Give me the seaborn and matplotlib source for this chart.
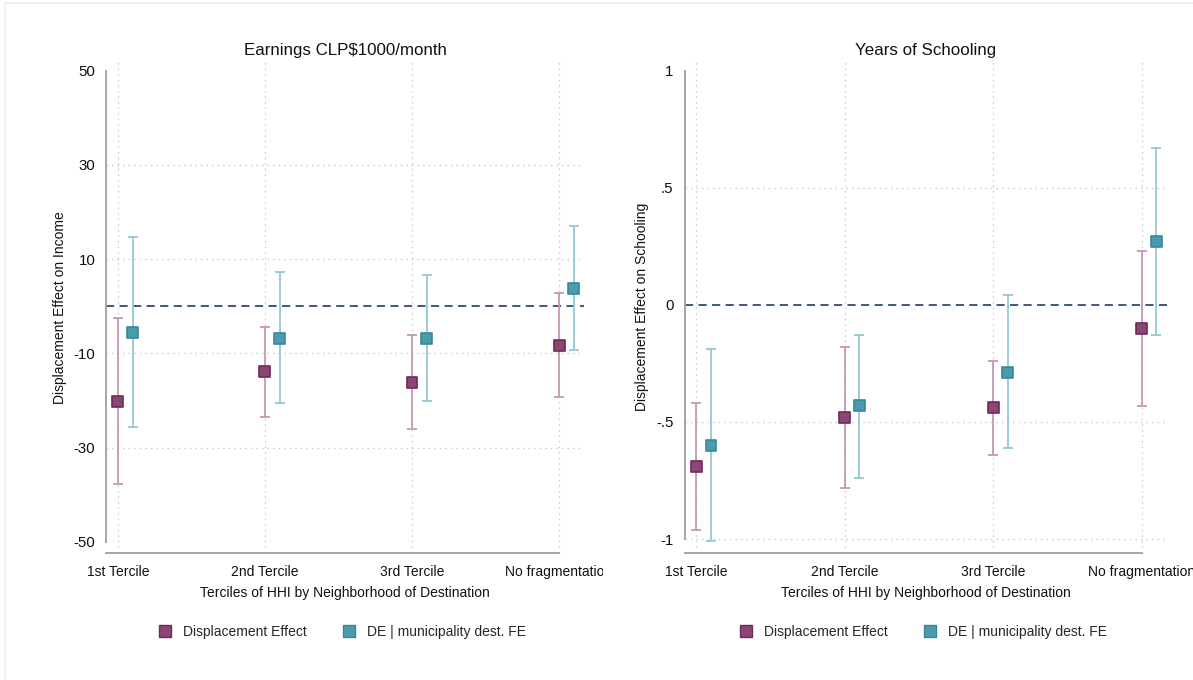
import matplotlib
matplotlib.use("Agg")
import matplotlib.pyplot as plt
from matplotlib.lines import Line2D
from matplotlib.transforms import Bbox, TransformedBbox
import numpy as np
import pandas as pd
import seaborn as sns

# Categories on the x axis
categories = ["1st Tercile", "2nd Tercile", "3rd Tercile", "No fragmentation"]
series_names = ["Displacement Effect", "DE | municipality dest. FE"]

# Earnings (CLP$1000/month): point estimates and 95% CI bounds
inc_de = [-20.2, -13.9, -16.1, -8.3]
inc_de_lo = [-37.8, -23.5, -26.0, -19.3]
inc_de_hi = [-2.5, -4.4, -6.1, 2.9]
inc_fe = [-5.6, -6.8, -6.8, 3.8]
inc_fe_lo = [-25.7, -20.6, -20.2, -9.3]
inc_fe_hi = [14.7, 7.2, 6.6, 17.1]

# Years of schooling: point estimates and 95% CI bounds
sch_de = [-0.69, -0.48, -0.44, -0.10]
sch_de_lo = [-0.96, -0.78, -0.64, -0.43]
sch_de_hi = [-0.42, -0.18, -0.24, 0.23]
sch_fe = [-0.60, -0.43, -0.29, 0.27]
sch_fe_lo = [-1.01, -0.74, -0.61, -0.13]
sch_fe_hi = [-0.19, -0.13, 0.04, 0.67]

# Axis ticks
inc_ticks = [50, 30, 10, -10, -30, -50]
inc_ticklabels = ["50", "30", "10", "-10", "-30", "-50"]
sch_ticks = [1, 0.5, 0, -0.5, -1]
sch_ticklabels = ["1", ".5", "0", "-.5", "-1"]

sns.set_theme(style="white")
plt.rcParams["font.family"] = ["Liberation Sans", "DejaVu Sans"]

MAROON_FACE, MAROON_EDGE, MAROON_CI = "#8a4773", "#72285a", "#c698b4"
TEAL_FACE, TEAL_EDGE, TEAL_CI = "#4c9bac", "#37879a", "#95c7d3"
SPINE = "#a6a6a6"
GRID = "#c8c8c8"
ZERO = "#2f4a78"

fig = plt.figure(figsize=(11.93, 6.80), dpi=100)
fig.patch.set_facecolor("white")

# faint frame along the top and left edges of the figure
fig.add_artist(Line2D([5.5 / 1193, 5.5 / 1193], [0, 1 - 2 / 680],
                      transform=fig.transFigure, color="#efefef", lw=1.2))
fig.add_artist(Line2D([5.5 / 1193, 1], [1 - 2.5 / 680, 1 - 2.5 / 680],
                      transform=fig.transFigure, color="#efefef", lw=1.2))


def build_frame(est, lo, hi, name, offset):
    return pd.DataFrame({
        "x": np.arange(1, len(categories) + 1) + offset,
        "est": est, "lo": lo, "hi": hi, "series": name,
    })


def panel(rect, title, ylabel, frames, ylim, xlim, ticks, ticklabels, grid_vals,
          ybounds, clip_right=None):
    ax = fig.add_axes(rect)
    ax.set_xlim(*xlim)
    ax.set_ylim(*ylim)

    # dotted reference grid
    for g in grid_vals:
        ax.axhline(g, color=GRID, lw=1.0, ls=(0, (1, 3)), zorder=0)
    for xv in range(1, len(categories) + 1):
        ax.axvline(xv, color=GRID, lw=1.0, ls=(0, (1, 3)), zorder=0)
    ax.axhline(0, color=ZERO, lw=1.3, ls=(0, (4.5, 3)), zorder=1)

    styles = {
        series_names[0]: (MAROON_FACE, MAROON_EDGE, MAROON_CI),
        series_names[1]: (TEAL_FACE, TEAL_EDGE, TEAL_CI),
    }
    data = pd.concat(frames, ignore_index=True)
    for name, sub in data.groupby("series", sort=False):
        face, edge, ci = styles[name]
        ax.errorbar(sub["x"], sub["est"],
                    yerr=[sub["est"] - sub["lo"], sub["hi"] - sub["est"]],
                    fmt="none", ecolor=ci, elinewidth=1.3, capsize=3.4,
                    capthick=1.3, zorder=2)
    sns.scatterplot(data=data, x="x", y="est", hue="series", style="series",
                    markers={series_names[0]: "s", series_names[1]: "s"},
                    palette={series_names[0]: MAROON_FACE, series_names[1]: TEAL_FACE},
                    s=62, linewidth=1.2, legend=False, ax=ax, zorder=3)
    coll = ax.collections[-1]
    edges = [MAROON_EDGE if s == series_names[0] else TEAL_EDGE for s in data["series"]]
    coll.set_edgecolors(edges)

    ax.set_title(title, fontsize=12.2, color="#111111", pad=5)
    ax.set_ylabel(ylabel, fontsize=10, color="#111111", labelpad=5)
    ax.set_xlabel("Terciles of HHI by Neighborhood of Destination",
                  fontsize=10, color="#111111", labelpad=5)
    ax.set_yticks(ticks)
    ax.set_yticklabels(ticklabels)
    ax.set_xticks(range(1, len(categories) + 1))
    ax.set_xticklabels(categories)
    ax.tick_params(axis="both", which="both", length=6, width=1.0, color=SPINE,
                   labelsize=10, labelcolor="#111111", pad=3)
    ax.tick_params(axis="y", labelsize=10.8, pad=2)
    ax.tick_params(axis="x", pad=3)

    for side in ["top", "right"]:
        ax.spines[side].set_visible(False)
    for side in ["left", "bottom"]:
        ax.spines[side].set_color(SPINE)
        ax.spines[side].set_linewidth(1.4)
    ax.spines["left"].set_bounds(*ybounds)
    ax.spines["bottom"].set_bounds(xlim[0], len(categories))
    ax.grid(False)

    if clip_right is not None:
        box = TransformedBbox(Bbox([[0, 0], [clip_right / 1193, 1]]), fig.transFigure)
        for lab in ax.get_xticklabels():
            lab.set_clip_box(box)
            lab.set_clip_on(True)

    handles = [
        Line2D([], [], ls="none", marker="s", markersize=8,
               markerfacecolor=MAROON_FACE, markeredgecolor=MAROON_EDGE, markeredgewidth=1.0),
        Line2D([], [], ls="none", marker="s", markersize=8,
               markerfacecolor=TEAL_FACE, markeredgecolor=TEAL_EDGE, markeredgewidth=1.0),
    ]
    cx = rect[0] + rect[2] / 2
    fig.legend(handles, series_names, loc="center", ncol=2,
               bbox_to_anchor=(cx - 3 / 1193, 1 - 632 / 680), bbox_transform=fig.transFigure,
               frameon=False, fontsize=10, handlelength=1.0, handletextpad=0.75,
               columnspacing=2.6)
    return ax


panel([106.4 / 1193, 1 - 552.7 / 680, (583.6 - 106.4) / 1193, (552.7 - 61.7) / 680],
      "Earnings CLP$1000/month", "Displacement Effect on Income",
      [build_frame(inc_de, inc_de_lo, inc_de_hi, series_names[0], 0.0),
       build_frame(inc_fe, inc_fe_lo, inc_fe_hi, series_names[1], 0.1)],
      (-52.3, 51.9), (0.922, 4.167), inc_ticks, inc_ticklabels,
      [30, 10, -10, -30], (-50, 50), clip_right=603)

panel([684.7 / 1193, 1 - 552.7 / 680, (1167.3 - 684.7) / 1193, (552.7 - 61.7) / 680],
      "Years of Schooling", "Displacement Effect on Schooling",
      [build_frame(sch_de, sch_de_lo, sch_de_hi, series_names[0], 0.0),
       build_frame(sch_fe, sch_fe_lo, sch_fe_hi, series_names[1], 0.1)],
      (-1.058, 1.038), (0.923, 4.173), sch_ticks, sch_ticklabels,
      [0.5, -0.5, -1], (-1, 1))

fig.savefig("out.png", dpi=100, facecolor="white")
